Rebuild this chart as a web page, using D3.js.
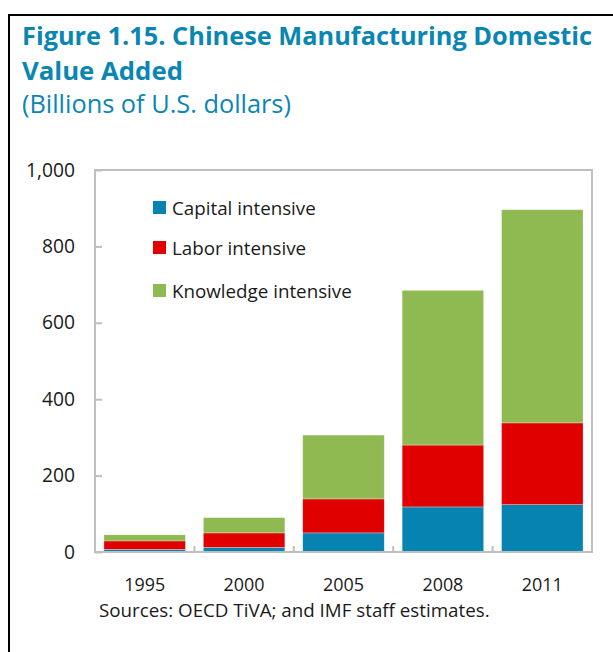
<!DOCTYPE html>
<html>
<head>
<meta charset="utf-8">
<script src="https://cdn.jsdelivr.net/npm/d3@7"></script>
<style>
html,body{margin:0;padding:0;background:#fff;}
svg{display:block;}
text{font-family:"Open Sans","Noto Sans",sans-serif;}
</style>
</head>
<body>
<svg id="chart" width="613" height="652"></svg>
<script>
// ---- data ----
const years = ["1995", "2000", "2005", "2008", "2011"];
const capital = [7, 12, 50, 118, 124];
const labor = [22, 38, 89, 162, 214];
const knowledge = [16, 40, 167, 405, 558];
const seriesNames = ["Capital intensive", "Labor intensive", "Knowledge intensive"];
const seriesColors = ["#0683b0", "#e00000", "#8fba52"];
const yTicks = [0, 200, 400, 600, 800, 1000];

const svg = d3.select("#chart");

// fit text to a target width by adjusting font size
function fit(sel, w) {
  const node = sel.node();
  const fs = parseFloat(sel.attr("font-size"));
  const len = node.getComputedTextLength();
  if (len > 0) sel.attr("font-size", (fs * w / len).toFixed(2));
  return sel;
}
// font size needed for a string to reach a target width
function sizeFor(str, w, base, weight) {
  const t = svg.append("text").attr("font-size", base).attr("font-weight", weight || "normal").text(str);
  const len = t.node().getComputedTextLength();
  t.remove();
  return len > 0 ? base * w / len : base;
}

// outer frame (left and top)
svg.append("path")
  .attr("d", "M9,652 L9,15 L613,15")
  .attr("fill", "none").attr("stroke", "#000").attr("stroke-width", 2);

// titles
const teal = "#0a86b3";
fit(svg.append("text").attr("x", 22).attr("y", 45).attr("font-size", 24)
  .attr("font-weight", "bold").attr("fill", teal)
  .text("Figure 1.15. Chinese Manufacturing Domestic"), 570);
fit(svg.append("text").attr("x", 22).attr("y", 80).attr("font-size", 24)
  .attr("font-weight", "bold").attr("fill", teal)
  .text("Value Added"), 161);
fit(svg.append("text").attr("x", 22).attr("y", 113).attr("font-size", 22)
  .attr("fill", teal)
  .text("(Billions of U.S. dollars)"), 269);

// plot area
const pL = 95, pR = 592, pT = 170, pB = 552;
const x = d3.scaleBand().domain(years).range([pL, pR]).paddingInner(0.18).paddingOuter(0.09);
const y = d3.scaleLinear().domain([0, 1000]).range([pB, pT]);

const rows = years.map((yr, i) => ({year: yr, c: capital[i], l: labor[i], k: knowledge[i]}));
const stack = d3.stack().keys(["c", "l", "k"])(rows);

// bars
const g = svg.append("g");
stack.forEach((layer, si) => {
  g.selectAll(null).data(layer).enter().append("rect")
    .attr("x", d => x(d.data.year))
    .attr("width", x.bandwidth())
    .attr("y", d => y(d[1]))
    .attr("height", d => y(d[0]) - y(d[1]))
    .attr("fill", seriesColors[si])
    .attr("stroke", "#ffffff").attr("stroke-opacity", 0.5).attr("stroke-width", 0.6);
});

// plot frame
svg.append("rect").attr("x", pL).attr("y", pT).attr("width", pR - pL).attr("height", pB - pT)
  .attr("fill", "none").attr("stroke", "#bfbfbf").attr("stroke-width", 2);

// y axis
const yAxis = d3.axisRight(y).tickValues(yTicks).tickSize(7).tickFormat("");
const ya = svg.append("g").attr("transform", `translate(${pL},0)`).call(yAxis);
ya.select(".domain").remove();
ya.selectAll(".tick line").attr("stroke", "#bfbfbf").attr("stroke-width", 2);

const tickFs = sizeFor("800", 33, 17);
svg.append("g").selectAll("text").data(yTicks).enter().append("text")
  .attr("x", 75).attr("y", d => y(d) + 6.5)
  .attr("text-anchor", "end").attr("font-size", tickFs).attr("fill", "#1a1a1a")
  .text(d => d3.format(",")(d));

// x axis ticks at band boundaries (pointing up)
const bounds = years.slice(1).map(yr => x(yr) - x.step() * x.paddingInner() / 2);
svg.append("g").selectAll("line").data(bounds).enter().append("line")
  .attr("x1", d => d).attr("x2", d => d)
  .attr("y1", pB).attr("y2", pB - 6)
  .attr("stroke", "#bfbfbf").attr("stroke-width", 2);

// x labels
const yearFs = sizeFor("1995", 41, 17);
svg.append("g").selectAll("text").data(years).enter().append("text")
  .attr("x", d => x(d) + x.bandwidth() / 2).attr("y", 591)
  .attr("text-anchor", "middle").attr("font-size", yearFs).attr("fill", "#1a1a1a")
  .text(d => d);

// source
fit(svg.append("text").attr("x", 99).attr("y", 617).attr("font-size", 17).attr("fill", "#1a1a1a")
  .text("Sources: OECD TiVA; and IMF staff estimates."), 391);

// legend
const legY = [208, 248, 291];
const legFs = sizeFor("Knowledge intensive", 180, 17);
const leg = svg.append("g");
seriesNames.forEach((n, i) => {
  leg.append("rect").attr("x", 153).attr("y", legY[i] - 7).attr("width", 13).attr("height", 13)
    .attr("fill", seriesColors[i]);
  leg.append("text").attr("x", 172).attr("y", legY[i] + 6.5).attr("font-size", legFs)
    .attr("fill", "#1a1a1a").text(n);
});
</script>
</body>
</html>
